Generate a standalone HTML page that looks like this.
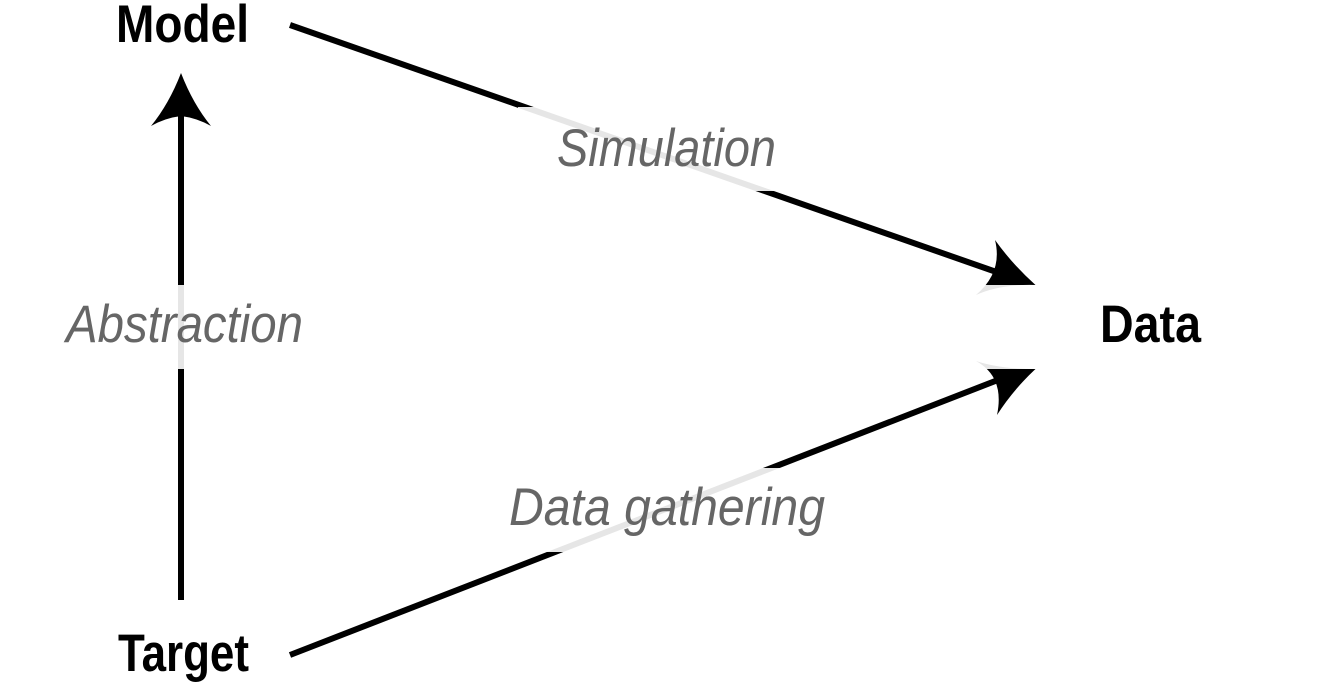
<!DOCTYPE html>
<html lang="en">
<head>
<meta charset="utf-8">
<title>Model Target Data diagram</title>
<style>
html,body{margin:0;padding:0;background:#fff;width:1330px;height:684px;overflow:hidden}
svg{display:block}
text{font-family:"Liberation Sans",sans-serif}
.n{font-weight:700;font-size:53px;fill:#000}
.e{font-style:italic;font-size:53px;fill:#666}
</style>
</head>
<body>
<svg width="1330" height="684" viewBox="0 0 1330 684" xmlns="http://www.w3.org/2000/svg">
  <rect width="1330" height="684" fill="#fff"/>
  <!-- connectors -->
  <line x1="181" y1="600" x2="181" y2="112" stroke="#000" stroke-width="6"/>
  <path d="M181 73 Q193 104 211 126 Q197 118 181 116 Q165 118 151 126 Q169 104 181 73Z" fill="#000"/>
  <line x1="290" y1="25" x2="1005" y2="275" stroke="#000" stroke-width="6"/>
  <path d="M1035.5 285 Q1013 265 995 240 Q1003 272 976 295 Q1000 284 1035.5 285Z" fill="#000"/>
  <line x1="290" y1="655" x2="1003" y2="378" stroke="#000" stroke-width="6"/>
  <path d="M1035.5 369 Q1013 390 997 415 Q1005 377 976 361 Q1000 369 1035.5 369Z" fill="#000"/>
  <!-- label backgrounds -->
  <rect x="518" y="107" width="258" height="84" fill="#fff" fill-opacity=".9"/>
  <rect x="55" y="285" width="260" height="84" fill="#fff" fill-opacity=".9"/>
  <rect x="500" y="468" width="335" height="84" fill="#fff" fill-opacity=".9"/>
  <rect x="965" y="285" width="270" height="84" fill="#fff" fill-opacity=".9"/>
  <!-- labels -->
  <text class="n" x="116" y="42" textLength="133" lengthAdjust="spacingAndGlyphs">Model</text>
  <text class="n" x="1100" y="342" textLength="101" lengthAdjust="spacingAndGlyphs">Data</text>
  <text class="n" x="118" y="671" textLength="131" lengthAdjust="spacingAndGlyphs">Target</text>
  <text class="e" x="557" y="166" textLength="219" lengthAdjust="spacingAndGlyphs">Simulation</text>
  <text class="e" x="66" y="342" textLength="237" lengthAdjust="spacingAndGlyphs">Abstraction</text>
  <text class="e" x="509" y="525" textLength="316" lengthAdjust="spacingAndGlyphs">Data gathering</text>
</svg>
</body>
</html>
